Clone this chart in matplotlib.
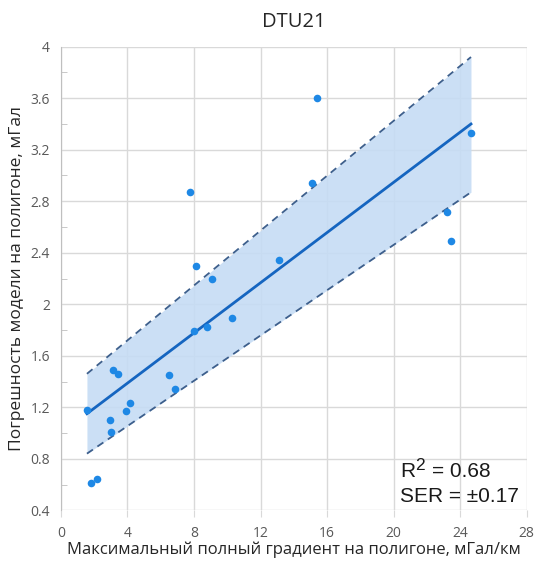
import matplotlib.pyplot as plt
from matplotlib.ticker import MultipleLocator

# gradient max (mGal/km) vs model error (mGal)
grad = [1.56, 1.80, 2.19, 2.97, 3.03, 3.13, 3.45, 3.89, 4.17, 6.48, 6.88,
        7.76, 8.02, 8.10, 8.78, 9.08, 10.27, 13.09, 15.08, 15.42, 23.22,
        23.48, 24.66]
error = [1.18, 0.61, 0.64, 1.10, 1.01, 1.49, 1.46, 1.17, 1.23, 1.45, 1.34,
         2.87, 1.79, 2.30, 1.82, 2.20, 1.89, 2.34, 2.94, 3.60, 2.72,
         2.49, 3.33]

# regression line and its band
fit_x = [1.56, 24.66]
fit_y = [1.15, 3.40]
band_upper = [1.46, 3.92]
band_lower = [0.84, 2.87]

ser_text = "SER = ±0.17"

plt.rcParams['font.family'] = ['Open Sans', 'DejaVu Sans']

fig = plt.figure(figsize=(5.36, 5.67), dpi=100)
ax = fig.add_axes([0.1138, 0.100, 0.8685, 0.8176])

ax.fill_between(fit_x, band_lower, band_upper, color='#c6dcf4', alpha=0.9,
                lw=0, zorder=1)
ax.plot(fit_x, band_upper, color='#3d5f8c', lw=1.3, ls=(0, (4, 3)), zorder=2)
ax.plot(fit_x, band_lower, color='#3d5f8c', lw=1.3, ls=(0, (4, 3)), zorder=2)
ax.plot(fit_x, fit_y, color='#1565c0', lw=2, zorder=3)
ax.scatter(grad, error, s=30, color='#1e88e5', zorder=4, linewidths=0)

ax.set_xlim(0, 28)
ax.set_ylim(0.4, 4)
ax.xaxis.set_major_locator(MultipleLocator(4))
ax.yaxis.set_minor_locator(MultipleLocator(0.2))
ax.set_yticks([0.4, 0.8, 1.2, 1.6, 2, 2.4, 2.8, 3.2, 3.6, 4])
ax.set_yticklabels(['0.4', '0.8', '1.2', '1.6', '2', '2.4', '2.8', '3.2',
                    '3.6', '4'])
ax.grid(True, color='#d9d9d9', lw=1)
ax.set_axisbelow(True)
for s in ['top', 'right', 'bottom']:
    ax.spines[s].set_visible(False)
ax.spines['left'].set_color('#bfbfbf')
ax.tick_params(axis='x', colors='#d9d9d9', length=5, labelcolor='#595959',
               labelsize=10, pad=6)
ax.tick_params(axis='y', which='major', length=0, labelcolor='#595959',
               labelsize=10, pad=8)
ax.tick_params(axis='y', which='minor', direction='in', length=4,
               colors='#bfbfbf')

ax.set_title('DTU21', fontsize=14.5, color='#262626', pad=14)
ax.set_xlabel('Максимальный полный градиент на полигоне, мГал/км',
              fontsize=12, color='#262626', labelpad=1)
ax.set_ylabel('Погрешность модели на полигоне, мГал', fontsize=12.5,
              color='#262626', labelpad=4)

# R² with a near full-size superscript, then the SER line
txt_kw = dict(family='Liberation Sans', color='#1a1a1a', va='baseline')
r_txt = ax.text(20.4, 0.66, 'R', fontsize=15, **txt_kw)
fig.canvas.draw()
inv = ax.transData.inverted()
bb = r_txt.get_window_extent().transformed(inv)
sup = ax.text(bb.x1, 0.715, '2', fontsize=12.5, **txt_kw)
fig.canvas.draw()
bb2 = sup.get_window_extent().transformed(inv)
ax.text(bb2.x1 + 0.4, 0.66, '= 0.68', fontsize=15, **txt_kw)
ax.text(20.4, 0.467, ser_text, fontsize=15, **txt_kw)

fig.savefig('out.png', dpi=100)
